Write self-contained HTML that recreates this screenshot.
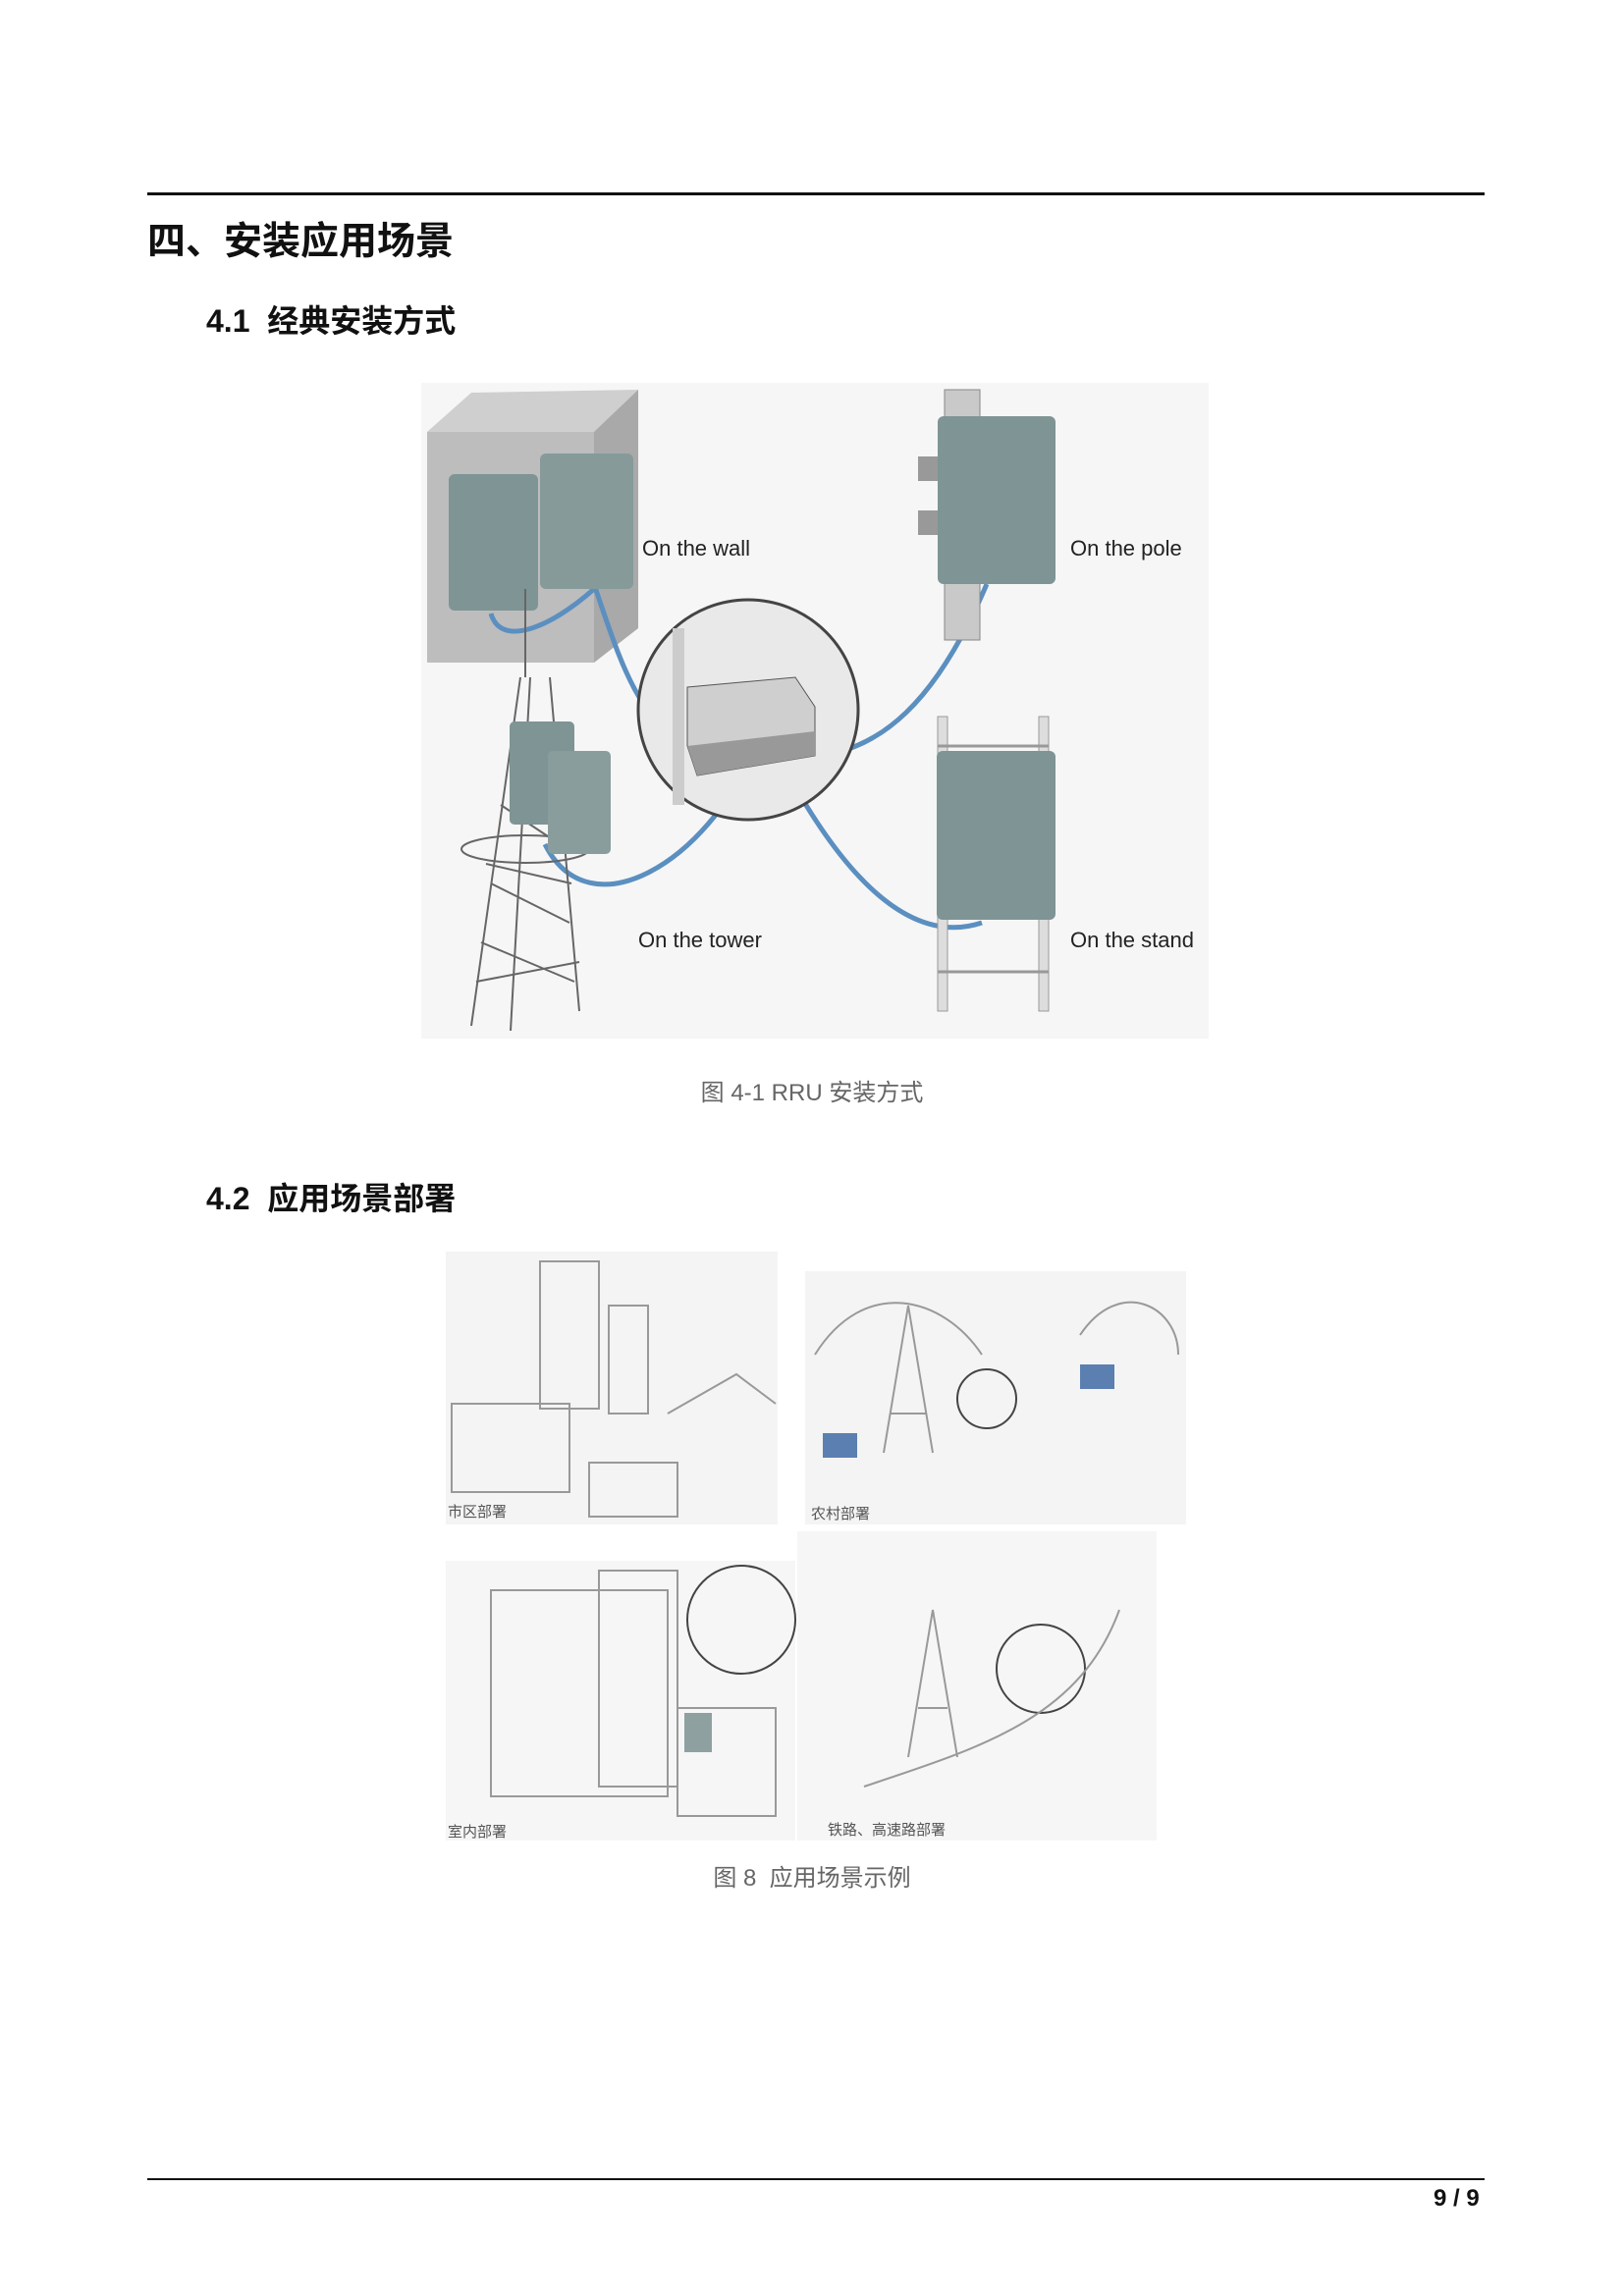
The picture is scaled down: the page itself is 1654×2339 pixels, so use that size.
<!DOCTYPE html>
<html><head><meta charset="utf-8"><style>
html,body{margin:0;padding:0;background:#fff;}
body{width:1654px;height:2339px;position:relative;overflow:hidden;font-family:"Liberation Sans","Noto Sans CJK SC",sans-serif;}
.abs{position:absolute;}
.h1{left:150px;top:215px;font-size:39px;font-weight:bold;color:#111;}
.h2{font-size:32px;font-weight:bold;color:#111;left:210px;}
.cap{font-size:24px;color:#666;width:1654px;text-align:center;left:0;}
.line{left:150px;width:1362px;height:3px;background:#111;}
</style></head><body>
<div class="abs line" style="top:196px"></div>
<div class="abs h1">四、安装应用场景</div>
<div class="abs h2" style="top:302px">4.1&nbsp; 经典安装方式</div>

<svg class="abs" style="left:429px;top:390px" width="802" height="668" viewBox="429 390 802 668">
<rect x="429" y="390" width="802" height="668" fill="#f6f6f6"/>
<polygon points="435,440 480,400 650,397 650,640 605,675 435,675" fill="#cfcfcf"/>
<polygon points="435,440 605,440 605,675 435,675" fill="#bdbdbd"/>
<polygon points="605,440 650,397 650,640 605,675" fill="#a9a9a9"/>
<g fill="none" stroke="#5b8fc0" stroke-width="5">
<path d="M500,625 C510,660 560,640 605,600"/>
<path d="M605,595 C640,700 660,760 740,765"/>
<path d="M1005,595 C960,700 900,780 800,770"/>
<path d="M555,860 C600,950 720,880 770,760"/>
<path d="M1000,940 C940,960 870,920 790,765"/>
</g>
<rect x="457" y="483" width="91" height="139" rx="6" fill="#7f9494"/>
<rect x="550" y="462" width="95" height="138" rx="6" fill="#869a9a"/>
<rect x="962" y="397" width="36" height="255" fill="#c9c9c9" stroke="#888"/>
<rect x="935" y="465" width="25" height="25" fill="#999"/><rect x="935" y="520" width="25" height="25" fill="#999"/>
<rect x="955" y="424" width="120" height="171" rx="6" fill="#7f9494"/>
<rect x="955" y="730" width="10" height="300" fill="#ddd" stroke="#999"/>
<rect x="1058" y="730" width="10" height="300" fill="#ddd" stroke="#999"/>
<line x1="955" y1="760" x2="1068" y2="760" stroke="#999" stroke-width="3"/>
<line x1="955" y1="990" x2="1068" y2="990" stroke="#999" stroke-width="3"/>
<rect x="954" y="765" width="121" height="172" rx="6" fill="#7f9494"/>
<g stroke="#666" stroke-width="2" fill="none">
<line x1="530" y1="690" x2="480" y2="1045"/><line x1="560" y1="690" x2="590" y2="1030"/>
<line x1="540" y1="690" x2="520" y2="1050"/>
<path d="M500,900 L580,940 M490,960 L585,1000 M510,820 L570,860 M495,880 L582,900 M485,1000 L590,980"/>
<ellipse cx="535" cy="865" rx="65" ry="14"/>
<line x1="535" y1="690" x2="535" y2="600"/>
</g>
<rect x="519" y="735" width="66" height="105" rx="5" fill="#7f9494"/>
<rect x="558" y="765" width="64" height="105" rx="5" fill="#8a9d9d"/>
<circle cx="762" cy="723" r="112" fill="#e9e9e9" stroke="#444" stroke-width="3"/>
<rect x="685" y="640" width="12" height="180" fill="#ccc"/>
<polygon points="700,700 810,690 830,720 830,770 710,790 700,760" fill="#cfcfcf" stroke="#555"/>
<polygon points="700,760 830,745 830,770 710,790" fill="#999"/>
<text x="654" y="566" font-size="22" fill="#222">On the wall</text>
<text x="1090" y="566" font-size="22" fill="#222">On the pole</text>
<text x="650" y="965" font-size="22" fill="#222">On the tower</text>
<text x="1090" y="965" font-size="22" fill="#222">On the stand</text>
</svg>

<div class="abs cap" style="top:1093px">图 4-1 RRU 安装方式</div>
<div class="abs h2" style="top:1196px">4.2&nbsp; 应用场景部署</div>

<svg class="abs" style="left:454px;top:1275px" width="760" height="605" viewBox="454 1275 760 605">
<rect x="454" y="1275" width="338" height="278" fill="#f4f4f4"/>
<rect x="820" y="1295" width="388" height="258" fill="#f4f4f4"/>
<rect x="454" y="1590" width="356" height="285" fill="#f6f6f6"/>
<rect x="812" y="1560" width="366" height="315" fill="#f6f6f6"/>
<g fill="none" stroke="#999" stroke-width="2">
<rect x="550" y="1285" width="60" height="150"/><rect x="620" y="1330" width="40" height="110"/>
<rect x="460" y="1430" width="120" height="90"/><rect x="600" y="1490" width="90" height="55"/>
<path d="M680,1440 L750,1400 L790,1430"/>
<path d="M830,1380 C880,1300 960,1320 1000,1380 M1100,1360 C1140,1300 1200,1330 1200,1380"/>
<path d="M900,1480 L925,1330 L950,1480 M907,1440 L943,1440"/>
<circle cx="1005" cy="1425" r="30" stroke="#444"/>
<rect x="500" y="1620" width="180" height="210"/><rect x="610" y="1600" width="80" height="220"/>
<circle cx="755" cy="1650" r="55" stroke="#444"/>
<rect x="690" y="1740" width="100" height="110"/>
<path d="M925,1790 L950,1640 L975,1790 M935,1740 L965,1740"/>
<circle cx="1060" cy="1700" r="45" stroke="#444"/>
<path d="M880,1820 C1000,1780 1100,1750 1140,1640"/>
</g>
<rect x="1100" y="1390" width="35" height="25" fill="#5b7fb0"/>
<rect x="838" y="1460" width="35" height="25" fill="#5b7fb0"/>
<rect x="697" y="1745" width="28" height="40" fill="#8fa0a0"/>
<text x="456" y="1545" font-size="15" fill="#555">市区部署</text>
<text x="826" y="1547" font-size="15" fill="#555">农村部署</text>
<text x="456" y="1871" font-size="15" fill="#555">室内部署</text>
<text x="843" y="1869" font-size="15" fill="#555">铁路、高速路部署</text>
</svg>

<div class="abs cap" style="top:1893px">图 8&nbsp; 应用场景示例</div>
<div class="abs line" style="top:2219px;height:2px"></div>
<div class="abs" style="left:1460px;top:2226px;font-size:24px;font-weight:bold;color:#111;">9 / 9</div>
</body></html>
